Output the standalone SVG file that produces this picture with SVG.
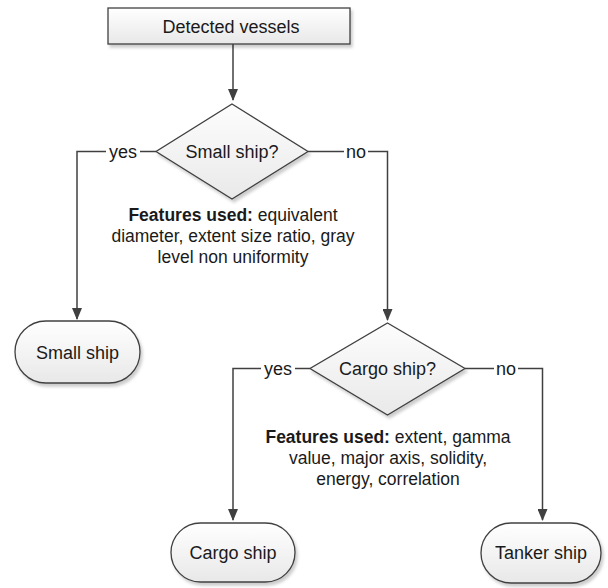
<svg xmlns="http://www.w3.org/2000/svg" width="608" height="588" viewBox="0 0 608 588">
<defs>
<linearGradient id="gRect" x1="0" y1="0" x2="0" y2="1"><stop offset="0" stop-color="#ffffff"/><stop offset="1" stop-color="#e8e8e8"/></linearGradient>
<linearGradient id="gDia" x1="0" y1="0" x2="0" y2="1"><stop offset="0" stop-color="#fdfdfd"/><stop offset="1" stop-color="#e9e9e9"/></linearGradient>
<filter id="sh" x="-10%" y="-10%" width="130%" height="140%"><feDropShadow dx="2" dy="3" stdDeviation="1.5" flood-color="#000" flood-opacity="0.2"/></filter>
<marker id="arr" markerWidth="12" markerHeight="10" refX="11" refY="5" orient="auto" markerUnits="userSpaceOnUse"><path d="M0,0 L12,5 L0,10 Z" fill="#404040"/></marker>
<style>
.shape{stroke:#404040;stroke-width:1.3;filter:url(#sh)}
.t{font-family:"Liberation Sans",Arial,sans-serif;font-size:18px;fill:#1a1a1a;text-anchor:middle}
.f{font-family:"Liberation Sans",Arial,sans-serif;font-size:17.5px;fill:#1a1a1a;text-anchor:middle}
.b{font-weight:bold}
.c{fill:none;stroke:#404040;stroke-width:1.5}
.lbl{font-family:"Liberation Sans",Arial,sans-serif;font-size:18px;fill:#1a1a1a;text-anchor:middle}
</style>
</defs>
<rect width="608" height="588" fill="#ffffff"/>
<g id="connectors">
<path class="c" d="M233,44 V100" marker-end="url(#arr)"/>
<path class="c" d="M156,151.5 H77 V319" marker-end="url(#arr)"/>
<path class="c" d="M308,151.5 H387.5 V320" marker-end="url(#arr)"/>
<path class="c" d="M310,368.5 H233 V520" marker-end="url(#arr)"/>
<path class="c" d="M465,368.5 H542.5 V520" marker-end="url(#arr)"/>
<g id="labels">
<rect x="106" y="142" width="34" height="20" fill="#fff"/><text class="lbl" x="123" y="158">yes</text>
<rect x="344" y="142" width="24" height="20" fill="#fff"/><text class="lbl" x="356" y="158">no</text>
<rect x="261" y="359" width="34" height="20" fill="#fff"/><text class="lbl" x="278" y="375">yes</text>
<rect x="494" y="359" width="24" height="20" fill="#fff"/><text class="lbl" x="506" y="375">no</text>
</g>
</g>
<g id="detected">
<rect class="shape" x="108" y="8" width="242" height="36" fill="url(#gRect)"/>
<text class="t" x="231" y="33">Detected vessels</text>
</g>
<g id="small-q">
<polygon class="shape" points="232,104 308,151.5 232,199 156,151.5" fill="url(#gDia)"/>
<text class="t" x="232" y="158">Small ship?</text>
</g>
<g id="features1">
<text class="f" x="233" y="221"><tspan class="b">Features used:</tspan> equivalent</text>
<text class="f" x="233" y="242">diameter, extent size ratio, gray</text>
<text class="f" x="233" y="263">level non uniformity</text>
</g>
<g id="small-ship">
<rect class="shape" x="15" y="321" width="125" height="62" rx="31" fill="url(#gRect)"/>
<text class="t" x="77.5" y="359">Small ship</text>
</g>
<g id="cargo-q">
<polygon class="shape" points="387.5,323 465,368.5 387.5,415 310,368.5" fill="url(#gDia)"/>
<text class="t" x="387.5" y="375">Cargo ship?</text>
</g>
<g id="features2">
<text class="f" x="388" y="443"><tspan class="b">Features used:</tspan> extent, gamma</text>
<text class="f" x="388" y="464">value, major axis, solidity,</text>
<text class="f" x="388" y="485">energy, correlation</text>
</g>
<g id="cargo-ship">
<rect class="shape" x="171" y="523" width="124" height="59" rx="29.5" fill="url(#gRect)"/>
<text class="t" x="233" y="559">Cargo ship</text>
</g>
<g id="tanker-ship">
<rect class="shape" x="481" y="523" width="120" height="60" rx="30" fill="url(#gRect)"/>
<text class="t" x="541" y="559">Tanker ship</text>
</g>
</svg>
